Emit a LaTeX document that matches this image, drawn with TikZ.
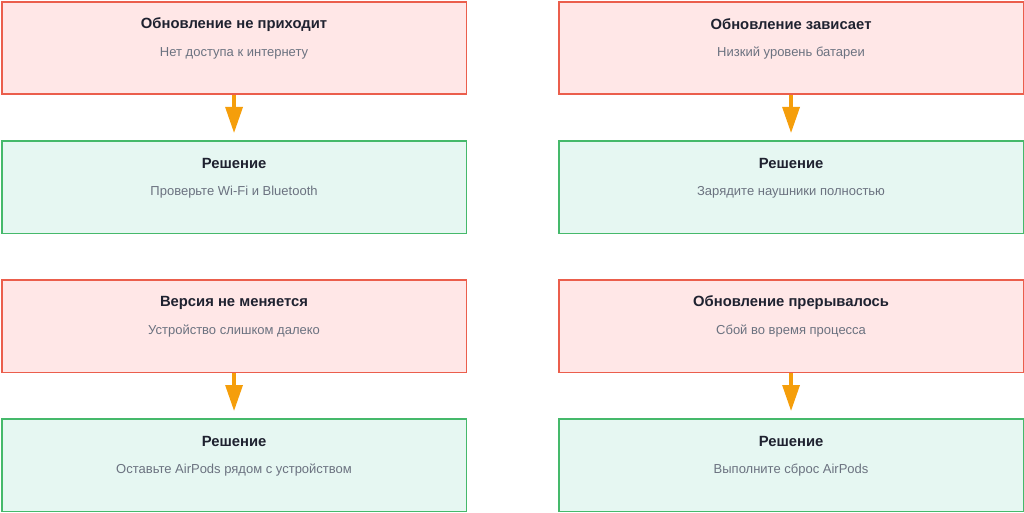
\documentclass[tikz,border=0pt]{standalone}
\usepackage{fontspec}
\setmainfont{Liberation Sans}
\usetikzlibrary{arrows.meta,positioning}
\definecolor{redline}{HTML}{EB5E4C}
\definecolor{redfill}{HTML}{FFE7E7}
\definecolor{greenline}{HTML}{45B96B}
\definecolor{greenfill}{HTML}{E6F7F2}
\definecolor{arrowc}{HTML}{F59E0B}
\definecolor{titlec}{HTML}{1F2230}
\definecolor{subc}{HTML}{6B7280}
\begin{document}
\begin{tikzpicture}[x=1pt,y=-1pt,
  box/.style={draw, line width=1.6pt, minimum width=464.5pt, minimum height=92.5pt, anchor=north west, inner sep=0pt},
  probbox/.style={box, draw=redline, fill=redfill},
  solbox/.style={box, draw=greenline, fill=greenfill},
  ttl/.style={font=\bfseries\fontsize{14.8}{16}\selectfont, text=titlec, inner sep=0pt},
  sub/.style={font=\fontsize{13}{15}\selectfont, text=subc, inner sep=0pt},
  flow/.style={draw=arrowc, line width=3.2pt, -{Triangle[width=17pt,length=26pt]}, shorten >=7pt}
]
\useasboundingbox (0,0) rectangle (1024,513);
% boxes
\node[probbox] (p1) at (1,1) {};
\node[solbox]  (s1) at (1,140) {};
\node[probbox] (p2) at (558,1) {};
\node[solbox]  (s2) at (558,140) {};
\node[probbox] (p3) at (1,279) {};
\node[solbox]  (s3) at (1,418) {};
\node[probbox] (p4) at (558,279) {};
\node[solbox]  (s4) at (558,418) {};
% texts
\foreach \b/\t/\s in {
  p1/{Обновление не приходит}/{Нет доступа к интернету},
  s1/{Решение}/{Проверьте Wi-Fi и Bluetooth},
  p2/{Обновление зависает}/{Низкий уровень батареи},
  s2/{Решение}/{Зарядите наушники полностью},
  p3/{Версия не меняется}/{Устройство слишком далеко},
  s3/{Решение}/{Оставьте AirPods рядом с устройством},
  p4/{Обновление прерывалось}/{Сбой во время процесса},
  s4/{Решение}/{Выполните сброс AirPods}}{
  \node[ttl] (\b t) at ([yshift=-23.5pt]\b.north) {\t};
  \node[sub] (\b s) at ([yshift=-52.5pt]\b.north) {\s};
}
% arrows
\draw[flow] (p1.south) -- (s1.north);
\draw[flow] (p2.south) -- (s2.north);
\draw[flow] (p3.south) -- (s3.north);
\draw[flow] (p4.south) -- (s4.north);
\end{tikzpicture}
\end{document}
